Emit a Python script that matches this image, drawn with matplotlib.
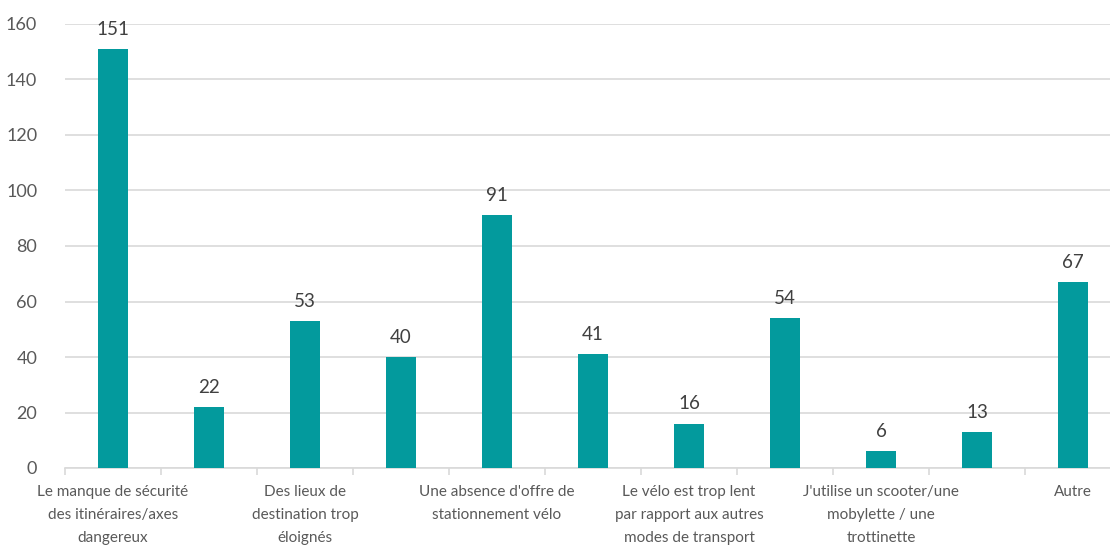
import matplotlib.pyplot as plt
import numpy as np

# Reasons given for not cycling (only every other category label is printed)
categories = [
    "Le manque de sécurité\ndes itinéraires/axes\ndangereux",
    "",
    "Des lieux de\ndestination trop\néloignés",
    "",
    "Une absence d'offre de\nstationnement vélo",
    "",
    "Le vélo est trop lent\npar rapport aux autres\nmodes de transport",
    "",
    "J'utilise un scooter/une\nmobylette / une\ntrottinette",
    "",
    "Autre",
]
counts = [151, 22, 53, 40, 91, 41, 16, 54, 6, 13, 67]

bar_color = '#039a9d'
grid_color = '#d9d9d9'
text_color = '#595959'

plt.rcParams['font.family'] = ['Lato', 'DejaVu Sans']

fig = plt.figure(figsize=(11.1, 5.46), dpi=100)
ax = fig.add_axes([65 / 1110, 78 / 546, 1056 / 1110, 444 / 546])

x = np.arange(len(counts))
bars = ax.bar(x, counts, width=0.31, color=bar_color, zorder=3)

# value labels above each bar
for rect, value in zip(bars, counts):
    ax.annotate(str(value), (rect.get_x() + rect.get_width() / 2, rect.get_height()),
                xytext=(0, 8), textcoords='offset points', ha='center', va='bottom',
                fontsize=13.5, color='#404040')

ax.set_xlim(-0.5, len(counts) - 0.5)
ax.set_ylim(0, 160)
ax.set_yticks(range(0, 161, 20))
ax.yaxis.grid(True, color=grid_color, linewidth=1.2, zorder=0)
ax.tick_params(axis='y', length=0, labelsize=13, labelcolor=text_color, pad=20)

# category labels centred on bars, tick marks between categories
ax.set_xticks(x)
ax.set_xticklabels(categories, fontsize=11, color=text_color, linespacing=1.85)
ax.tick_params(axis='x', which='major', length=0, pad=12)
ax.set_xticks(np.arange(-0.5, len(counts), 1), minor=True)
ax.tick_params(axis='x', which='minor', length=5, color=grid_color, width=1.2)

for side in ['top', 'right', 'left']:
    ax.spines[side].set_visible(False)
ax.spines['bottom'].set_color(grid_color)
ax.spines['bottom'].set_linewidth(1.2)

fig.savefig('out.png', dpi=100)
